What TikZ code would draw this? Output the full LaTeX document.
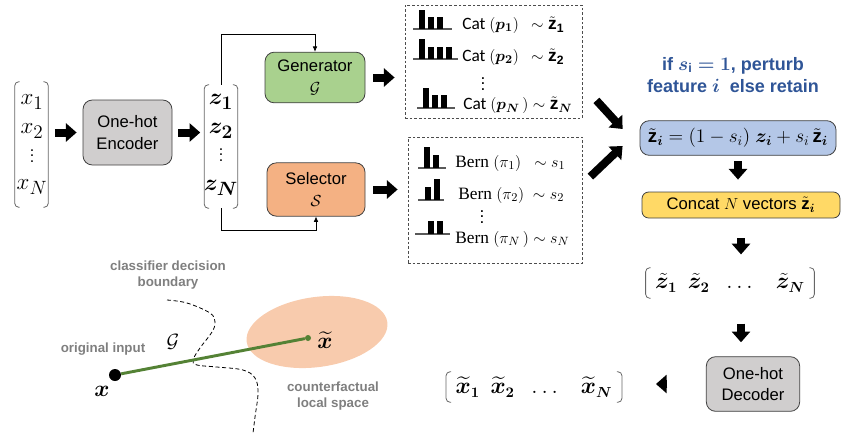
\documentclass[tikz,border=0pt]{standalone}
\usepackage{amsmath}
\usepackage{bm}
\usepackage{fontspec}
\setmainfont{Liberation Sans}
\newfontfamily\catfont{Carlito}
\newfontfamily\bernfont{Liberation Serif}
\usetikzlibrary{arrows.meta, calc}

\definecolor{boxgray}{HTML}{D0CECE}
\definecolor{gengreen}{HTML}{A9D18E}
\definecolor{selorange}{HTML}{F4B183}
\definecolor{mixblue}{HTML}{B4C7E7}
\definecolor{catyellow}{HTML}{FFD966}
\definecolor{headblue}{HTML}{2F5597}
\definecolor{cfpeach}{HTML}{F8CBAD}
\definecolor{pathgreen}{HTML}{548235}
\definecolor{notegray}{HTML}{7F7F7F}

% little bar chart: line start x, baseline y, line length, first bar x, bar heights
\newcommand{\bars}[5]{%
  \draw[gray!70!black, line width=0.8pt] (#1,#2) -- ++(#3,0);
  \foreach \h [count=\k] in {#5}
    \fill ({#4+(\k-1)*9},#2) rectangle ++(5.5,-\h);
}
% round brackets drawn round a vector node
\newcommand{\brackets}[1]{%
  \draw[brk] ($(#1.north west)+(5,0)$) -- (#1.north west) -- (#1.south west) -- ++(5,0);
  \draw[brk] ($(#1.north east)+(-5,0)$) -- (#1.north east) -- (#1.south east) -- ++(-5,0);
}

\begin{document}
\begin{tikzpicture}[x=0.75pt, y=-0.75pt,
  procbox/.style={draw=black!75, line width=0.6pt, rounded corners=7pt, align=center,
    font=\fontsize{12.5}{16}\selectfont},
  samplebox/.style={draw=black!70, line width=0.6pt, dash pattern=on 2pt off 1.5pt},
  blockarrow/.style={line width=6pt, -{Triangle[length=8pt, width=13.5pt]}},
  link/.style={line width=0.5pt, -{Latex[length=4pt, width=3.5pt]}},
  brk/.style={draw=black!60, line width=0.6pt, rounded corners=3pt},
  sample/.style={anchor=west, inner sep=0pt, font=\fontsize{13}{15}\selectfont},
  note/.style={text=notegray, align=center, font=\bfseries\fontsize{10}{12}\selectfont},
  vecent/.style={inner sep=0pt, font=\fontsize{19}{22}\selectfont},
  vdot/.style={inner sep=0pt, font=\fontsize{12}{14}\selectfont},
  rowvec/.style={minimum height=22.5pt, inner xsep=7pt, inner ysep=0pt, font=\fontsize{16}{20}\selectfont}
]
\useasboundingbox (0,0) rectangle (841,440);

% input vector
\node[minimum width=24.75pt, minimum height=93.75pt, inner sep=0pt] (xvec) at (31.5,144.5) {};
\brackets{xvec}
\node[vecent] (x1) at (32,102) {$x_1$};
\node[vecent] (x2) at (32,131) {$x_2$};
\node[vdot] (xd) at (32,152) {$\vdots$};
\node[vecent] (xN) at (32,187) {$x_N$};

\node[procbox, fill=boxgray, minimum width=66.75pt, minimum height=48.75pt] (enc) at (127.5,132.5) {One-hot\\Encoder};

% latent vector
\node[minimum width=24.75pt, minimum height=92.25pt, inner sep=0pt] (zvec) at (221,146.5) {};
\brackets{zvec}
\node[vecent] (z1) at (221,102) {$\bm{z_1}$};
\node[vecent] (z2) at (221,131) {$\bm{z_2}$};
\node[vdot] (zd) at (221,151) {$\vdots$};
\node[vecent] (zN) at (221,188) {$\bm{z_N}$};

\node[procbox, fill=gengreen, minimum width=75pt, minimum height=38pt] (gen) at (315,77.5) {Generator\\$\mathcal{G}$};
\node[procbox, fill=selorange, minimum width=73.5pt, minimum height=40pt] (sel) at (316,189.5) {Selector\\$\mathcal{S}$};

\draw[link] (zvec.north) -- ++(0,-50) -| (gen.north);
\draw[link] (zvec.south) -- ++(0,22) -| (sel.south);

% sampled values
\node[samplebox, minimum width=132.75pt, minimum height=84.75pt] (catbox) at (493.5,61.5) {};
\bars{413}{29}{39}{419}{19,12,12}
\bars{413}{59}{45}{419}{20,12,12,12}
\bars{417}{108}{38}{423}{20,13,13}
\node[sample] (cat1) at (462,25) {\catfont Cat $(\bm{p_1})\ \ \sim \tilde{\mathbf{z}}_{\mathbf{1}}$};
\node[sample] (cat2) at (462,57) {\catfont Cat $(\bm{p_2})\ \ \sim \tilde{\mathbf{z}}_{\mathbf{2}}$};
\node[sample, anchor=center] (catd) at (483,80) {$\vdots$};
\node[sample] (catN) at (463,105) {\catfont Cat $(\bm{p_N}\,) \sim \tilde{\mathbf{z}}_{\bm{N}}$};

\node[samplebox, minimum width=130.5pt, minimum height=94.5pt] (bernbox) at (495,200) {};
\bars{418}{168}{28}{424}{21,13}
\bars{418}{200}{26}{425}{13,21}
\bars{415}{234}{35}{428}{13,13}
\node[sample] (bern1) at (455,163) {\bernfont Bern $(\pi_1)\ \ \sim s_1$};
\node[sample] (bern2) at (458,195) {\bernfont Bern $(\pi_2)\ \sim s_2$};
\node[sample, anchor=center] (bernd) at (482,213) {$\vdots$};
\node[sample] (bernN) at (455,239) {\bernfont Bern $(\pi_N\,) \sim s_N$};

\draw[blockarrow, shorten <=5pt, shorten >=4.5pt] (xvec.east |- enc.west) -- (enc.west);
\draw[blockarrow, shorten <=4.5pt, shorten >=3pt] (enc.east) -- (enc.east -| zvec.west);
\draw[blockarrow, shorten <=6pt, shorten >=7.5pt] (gen.east) -- (gen.east -| catbox.west);
\draw[blockarrow, shorten <=6pt, shorten >=7.5pt] (sel.east) -- (sel.east -| bernbox.west);

% perturbation rule
\node[text=headblue, align=center, font=\bfseries\fontsize{13.5}{17}\selectfont] (rule) at (733,75)
  {if $\bm{s_{\mathrm{i}} = 1}$, perturb\\feature $\bm{i}$\ \ else retain};
\node[procbox, fill=mixblue, minimum width=147pt, minimum height=26pt, font=\fontsize{14}{16}\selectfont] (mix) at (738,138)
  {$\tilde{\mathbf{z}}_{\bm{i}} = (1 - s_i)\ \bm{z_i} + s_i\, \tilde{\mathbf{z}}_{\bm{i}}$};
\node[procbox, fill=catyellow, minimum width=148.5pt, minimum height=19.5pt, rounded corners=5pt] (concat) at (741,205)
  {Concat $N$ vectors $\tilde{\mathbf{z}}_{\bm{i}}$};

\draw[blockarrow] ($(catbox.south east)+(14,-18)$) -- ($(mix.west)+(-17,-9)$);
\draw[blockarrow] ($(bernbox.north east)+(8,40)$) -- ($(mix.west)+(-17,8)$);
\draw[blockarrow, shorten <=4pt, shorten >=9pt] (mix.south) -- (mix.south |- concat.north);

\node[rowvec, minimum width=117pt] (zt) at (730,283)
  {$\tilde{\bm{z}}_{\bm{1}}\enspace \tilde{\bm{z}}_{\bm{2}}\;\; \ldots\;\;\; \tilde{\bm{z}}_{\bm{N}}$};
\brackets{zt}
\draw[blockarrow, shorten <=15pt, shorten >=10pt] (concat.south) -- (concat.south |- zt.north);

\node[procbox, fill=boxgray, minimum width=70pt, minimum height=41pt] (dec) at (753,384) {One-hot\\Decoder};
\draw[blockarrow, shorten <=19pt, shorten >=10.5pt] (zt.south -| concat.south) -- (dec.north -| concat.south);

\node[rowvec, minimum width=118.5pt] (xt) at (534,387)
  {$\widetilde{\bm{x}}_{\bm{1}}\enspace \widetilde{\bm{x}}_{\bm{2}}\;\; \ldots\;\;\; \widetilde{\bm{x}}_{\bm{N}}$};
\brackets{xt}
\draw[blockarrow, shorten <=29pt, shorten >=25.5pt] (dec.west) -- (dec.west -| xt.east);

% input space sketch
\fill[cfpeach, rotate around={8:(317,332)}] (317,332) ellipse [x radius=71, y radius=35];
\draw[line width=0.6pt, dash pattern=on 3pt off 2pt] plot[smooth, tension=0.6] coordinates
  {(167,300) (187,303) (210,313) (215,322) (212,332) (200,348) (193,360) (197,365)
   (217,367) (243,370) (255,378) (258,393) (255,417) (253,433)};
\node[circle, fill=black, inner sep=0pt, minimum size=9pt] (xin) at (115,375) {};
\node[circle, fill=pathgreen, inner sep=0pt, minimum size=4.5pt] (xcf) at (308,338) {};
\draw[pathgreen, line width=2.2pt] (xin) -- (xcf);
\node[font=\fontsize{17}{20}\selectfont] (xlab) at (102,391) {$\bm{x}$};
\node[font=\fontsize{17}{20}\selectfont] (xcflab) at (325,340) {$\widetilde{\bm{x}}$};
\node[font=\fontsize{14}{16}\selectfont] (glab) at (173,342) {$\mathcal{G}$};
\node[note] (orig) at (103,349) {original input};
\node[note] (bound) at (168,275) {classifier decision\\boundary};
\node[note] (cflocal) at (333,396) {counterfactual\\local space};
\end{tikzpicture}
\end{document}
